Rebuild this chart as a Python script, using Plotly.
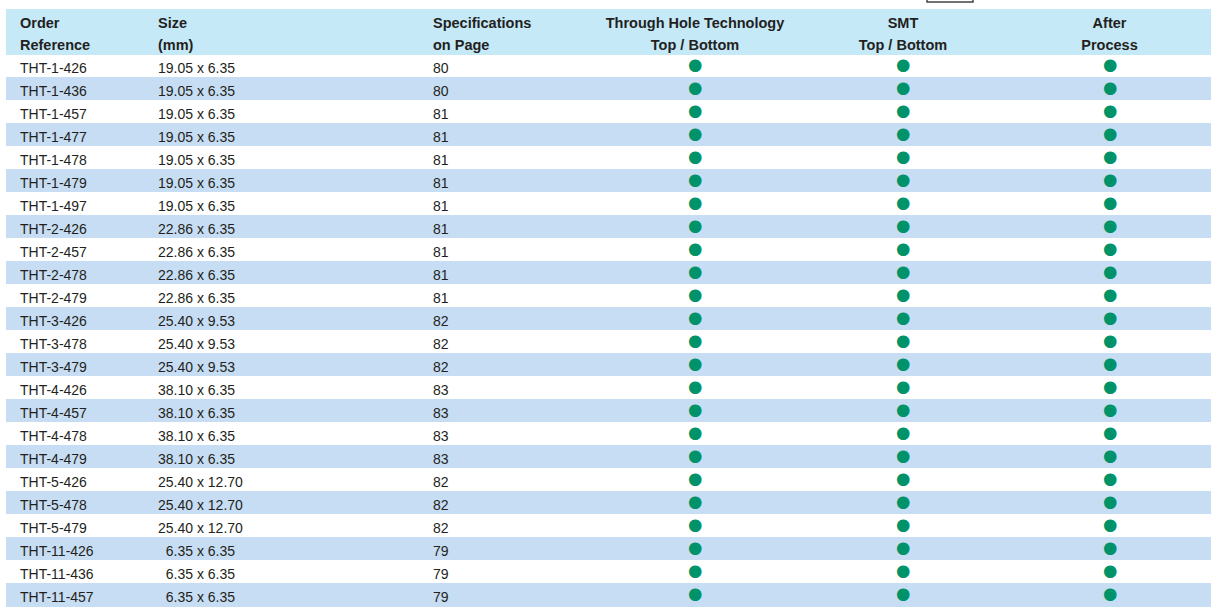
import plotly.graph_objects as go

order_refs = ["THT-1-426", "THT-1-436", "THT-1-457", "THT-1-477", "THT-1-478", "THT-1-479",
              "THT-1-497", "THT-2-426", "THT-2-457", "THT-2-478", "THT-2-479", "THT-3-426",
              "THT-3-478", "THT-3-479", "THT-4-426", "THT-4-457", "THT-4-478", "THT-4-479",
              "THT-5-426", "THT-5-478", "THT-5-479", "THT-11-426", "THT-11-436", "THT-11-457"]
sizes = ["19.05 x 6.35"] * 7 + ["22.86 x 6.35"] * 4 + ["25.40 x 9.53"] * 3 + \
        ["38.10 x 6.35"] * 4 + ["25.40 x 12.70"] * 3 + ["6.35 x 6.35"] * 3
pages = [80, 80, 81, 81, 81, 81, 81, 81, 81, 81, 81, 82, 82, 82, 83, 83, 83, 83, 82, 82, 82, 79, 79, 79]
through_hole = [True] * 24
smt = [True] * 24
after_process = [True] * 24

header_line1 = ["", "Order", "Size", "Specifications", "Through Hole Technology", "SMT", "After"]
header_line2 = ["", "Reference", "(mm)", "on Page", "Top / Bottom", "Top / Bottom", "Process"]
check_cols = ["tht", "smt", "after"]

W, H = 1211, 607
HEADER_BG = "#c6e9f8"
ROW_BLUE = "#c7ddf3"
TEXT = "#231f20"
GREEN = "#00936a"
DOT = "\u25cf"

n = len(order_refs)
row_fill = ["white" if i % 2 == 0 else ROW_BLUE for i in range(n)]

def fmt_size(s):
    # pad short sizes with a figure space so the digits line up
    return ("\u2007" + s) if len(s.split(" x ")[0]) < 5 else s

cols = [
    [""] * n,
    order_refs,
    [fmt_size(s) for s in sizes],
    [str(p) for p in pages],
    [""] * n,
    [""] * n,
    [""] * n,
]

header_vals = [[a, b] for a, b in zip(header_line1, header_line2)]

col_widths = [6, 138, 275, 167, 206, 210, 203]
txt_font = "Liberation Sans, Arial, sans-serif"
dot_font = "DejaVu Sans, sans-serif"
aligns = ["left", "left", "left", "left", "center", "center", "center"]

fig = go.Figure()
fig.add_trace(go.Table(
    domain=dict(x=[6 / W, 1], y=[0, 1 - 9 / H]),
    columnwidth=col_widths,
    header=dict(
        values=header_vals,
        fill_color=HEADER_BG,
        line=dict(color=HEADER_BG, width=1),
        align=aligns,
        font=dict(family=txt_font, size=14.5, color=TEXT, weight="bold"),
        height=22.5,
    ),
    cells=dict(
        values=cols,
        fill_color=[row_fill] * 7,
        line=dict(color=[row_fill] * 7, width=1),
        align=aligns,
        font=dict(family=txt_font, size=14, color=TEXT),
        height=23,
    ),
))

# green dots: placed on category axes aligned with the table's columns/rows
for col_name, flags in zip(check_cols, [through_hole, smt, after_process]):
    for ref, v in zip(order_refs, flags):
        if v:
            fig.add_annotation(x=col_name, y=ref, xref="x", yref="y", text=DOT,
                               showarrow=False, yshift=1,
                               font=dict(family=dot_font, size=16.5, color=GREEN))

col_unit = 207.5
x0 = -695 / col_unit
row_unit = 23.0
y_top = -65.5 / row_unit
fig.update_xaxes(type="category", categoryorder="array", categoryarray=check_cols,
                 range=[x0, x0 + W / col_unit], visible=False, domain=[0, 1])
fig.update_yaxes(type="category", categoryorder="array", categoryarray=order_refs,
                 range=[y_top + H / row_unit, y_top], visible=False, domain=[0, 1])

fig.add_shape(type="rect", xref="paper", yref="paper",
              x0=927 / W, x1=973 / W, y0=1 - 2 / H, y1=1.1,
              line=dict(color="#444444", width=1.5), fillcolor="white")

fig.update_layout(width=W, height=H, margin=dict(l=0, r=0, t=0, b=0),
                  paper_bgcolor="white", plot_bgcolor="rgba(0,0,0,0)")

fig.write_html("out.html", config={"displayModeBar": False},
               post_script="document.body.style.margin='0';document.body.style.overflow='hidden';")
